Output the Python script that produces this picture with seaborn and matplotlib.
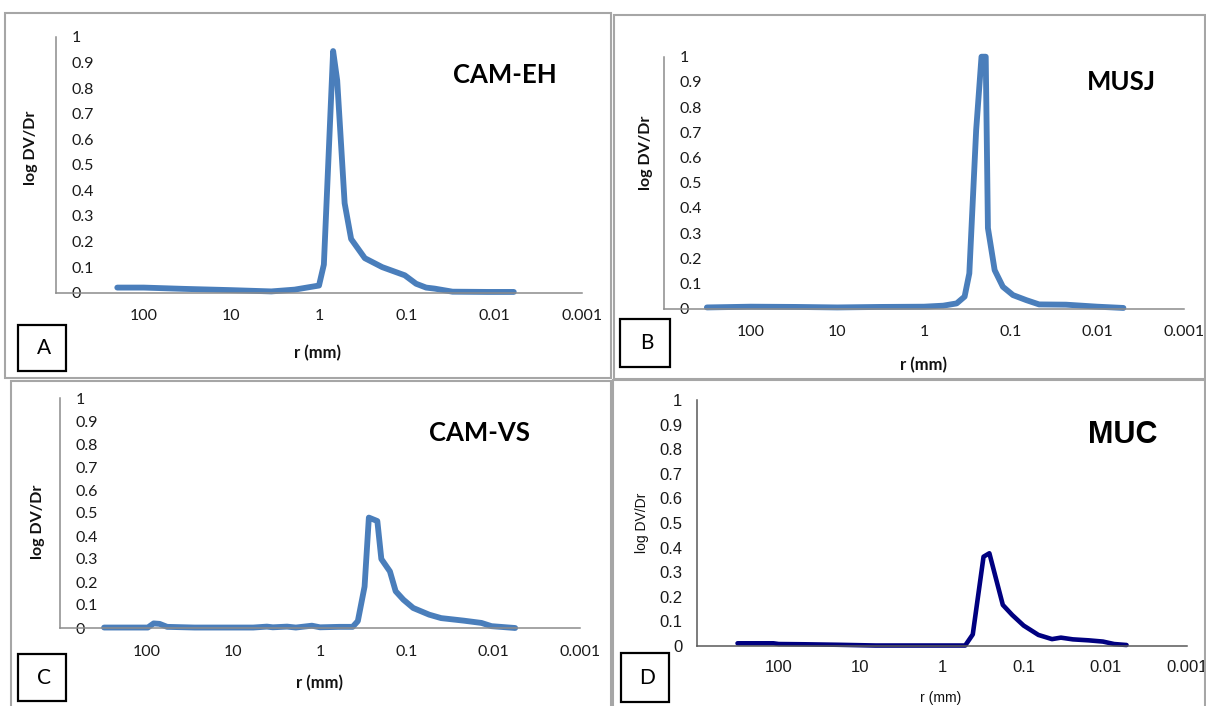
import matplotlib.pyplot as plt
import pandas as pd
import seaborn as sns
from matplotlib.patches import Rectangle
from matplotlib.ticker import NullLocator

FIG_W, FIG_H = 1206, 706

# pore radius r (mm) and log DV/Dr
CAM_EH_R = [200, 100, 35, 10, 3.5, 1.9, 1.0, 0.88, 0.69, 0.62, 0.51, 0.43, 0.30,
            0.19, 0.105, 0.078, 0.06, 0.048, 0.03, 0.012, 0.006]
CAM_EH_V = [0.02, 0.02, 0.015, 0.01, 0.005, 0.012, 0.028, 0.11, 0.945, 0.83, 0.35,
            0.21, 0.135, 0.10, 0.068, 0.035, 0.02, 0.016, 0.004, 0.003, 0.003]

MUSJ_R = [320, 100, 30, 10, 3.2, 1.0, 0.6, 0.42, 0.34, 0.30, 0.25, 0.217, 0.194,
          0.183, 0.153, 0.123, 0.094, 0.066, 0.047, 0.023, 0.01, 0.005]
MUSJ_V = [0.005, 0.008, 0.007, 0.005, 0.007, 0.008, 0.012, 0.021, 0.048, 0.14, 0.71,
          1.0, 1.0, 0.32, 0.153, 0.087, 0.054, 0.034, 0.017, 0.016, 0.008, 0.003]

CAM_VS_R = [310, 97, 83, 71, 58, 28, 5.9, 4.1, 3.5, 2.4, 1.9, 1.24, 1.0, 0.6, 0.42,
            0.366, 0.306, 0.273, 0.218, 0.196, 0.156, 0.134, 0.109, 0.084, 0.055,
            0.04, 0.022, 0.0137, 0.0105, 0.0056]
CAM_VS_V = [0.002, 0.002, 0.02, 0.018, 0.005, 0.002, 0.002, 0.006, 0.003, 0.006,
            0.002, 0.01, 0.003, 0.005, 0.005, 0.03, 0.18, 0.48, 0.465, 0.30, 0.246,
            0.16, 0.123, 0.087, 0.058, 0.043, 0.032, 0.022, 0.008, 0.0]

MUC_R = [319, 116, 100, 49, 19, 6.5, 2.0, 0.52, 0.42, 0.31, 0.263, 0.18, 0.138, 0.10,
         0.066, 0.045, 0.035, 0.025, 0.016, 0.0107, 0.0078, 0.0055]
MUC_V = [0.011, 0.011, 0.008, 0.007, 0.005, 0.002, 0.002, 0.002, 0.047, 0.363, 0.377,
         0.167, 0.126, 0.083, 0.045, 0.028, 0.034, 0.027, 0.023, 0.018, 0.008, 0.004]

X_TICKS = [100, 10, 1, 0.1, 0.01, 0.001]
X_LABELS = ["100", "10", "1", "0.1", "0.01", "0.001"]
Y_TICKS = [0, 0.1, 0.2, 0.3, 0.4, 0.5, 0.6, 0.7, 0.8, 0.9, 1]
Y_LABELS = ["0", "0.1", "0.2", "0.3", "0.4", "0.5", "0.6", "0.7", "0.8", "0.9", "1"]

EXCEL_BLUE = "#4a7ebb"
NAVY = "#000080"


def fx(x):
    return x / FIG_W


def fy(y):
    return 1 - y / FIG_H


def add_box(fig, left, top, right, bottom, color, lw):
    fig.add_artist(Rectangle((fx(left), fy(bottom)), (right - left) / FIG_W,
                             (bottom - top) / FIG_H, transform=fig.transFigure,
                             fill=False, edgecolor=color, linewidth=lw))


def draw_panel(fig, spec):
    left, top, right, bottom = spec["axes"]
    ax = fig.add_axes([fx(left), fy(bottom), (right - left) / FIG_W, (bottom - top) / FIG_H])
    ax.set_xscale("log")
    df = pd.DataFrame({"r": spec["r"], "v": spec["v"]})
    sns.lineplot(data=df, x="r", y="v", ax=ax, color=spec["color"],
                 linewidth=spec["lw"], estimator=None, sort=False)
    for line in ax.lines:
        line.set_clip_on(False)
        line.set_solid_joinstyle("round")
        line.set_solid_capstyle("round")

    ax.set_xlim(1000, 0.001)
    ax.set_ylim(0, 1)
    ax.set_facecolor("none")
    for side in ["top", "right"]:
        ax.spines[side].set_visible(False)
    for side in ["left", "bottom"]:
        ax.spines[side].set_color(spec["axis_color"])
        ax.spines[side].set_linewidth(1.1)

    ax.set_xticks(X_TICKS)
    ax.set_xticklabels(X_LABELS)
    ax.xaxis.set_minor_locator(NullLocator())
    ax.set_yticks(Y_TICKS)
    ax.set_yticklabels(Y_LABELS)

    font = spec["font"]
    ax.tick_params(axis="x", direction="out", length=3, width=1.1, color=spec["axis_color"],
                   pad=spec["xpad"], labelsize=spec["tick_size"], labelcolor="#1a1a1a")
    if spec["inner_labels"]:
        ax.tick_params(axis="y", direction="in", length=3.4, width=1.1,
                       color=spec["axis_color"], pad=-11, labelsize=spec["tick_size"],
                       labelcolor="#1a1a1a")
        for label in ax.get_yticklabels():
            label.set_horizontalalignment("left")
    else:
        ax.tick_params(axis="y", direction="out", length=3.6, width=1.1,
                       color=spec["axis_color"], pad=7, labelsize=spec["tick_size"],
                       labelcolor="#1a1a1a")
    for label in ax.get_xticklabels() + ax.get_yticklabels():
        label.set_fontfamily(font)

    ax.set_xlabel("")
    ax.set_ylabel("")

    weight = spec["label_weight"]
    fig.text(fx(spec["ylabel_xy"][0]), fy(spec["ylabel_xy"][1]), "log DV/Dr", rotation=90,
             ha="center", va="center", fontsize=spec["label_size"], fontweight=weight,
             family=font, color="#111111")
    fig.text(fx(spec["xlabel_xy"][0]), fy(spec["xlabel_xy"][1]), "r (mm)",
             ha="center", va="center", fontsize=spec["xlabel_size"], fontweight=weight,
             family=font, color="#111111")
    fig.text(fx(spec["title_xy"][0]), fy(spec["title_xy"][1]), spec["title"],
             ha="center", va="center", fontsize=spec["title_size"], fontweight="bold",
             family=font, color="black")

    add_box(fig, *spec["frame"], color="#a6a6a6", lw=1.5)
    bl, bt, br, bb = spec["letter_box"]
    add_box(fig, bl, bt, br, bb, color="black", lw=1.6)
    fig.text(fx((bl + br) / 2 + 2), fy((bt + bb) / 2), spec["letter"], ha="center",
             va="center", fontsize=15, family="Lato", color="black")
    return ax


def main():
    sns.set_style("white")
    fig = plt.figure(figsize=(FIG_W / 100, FIG_H / 100), dpi=100)
    fig.patch.set_facecolor("white")

    calibri_like = dict(color=EXCEL_BLUE, lw=4.2, axis_color="#8c8c8c", font="Lato",
                        inner_labels=True, tick_size=11.5, xpad=9, label_size=11.5,
                        xlabel_size=12, label_weight="bold", title_size=18.5)
    panels = [
        dict(calibri_like, r=CAM_EH_R, v=CAM_EH_V, title="CAM-EH", letter="A",
             axes=(56, 37, 582, 292.7), frame=(5, 13, 611, 378),
             letter_box=(17.5, 325, 66, 371), title_xy=(505, 75),
             ylabel_xy=(31, 148), xlabel_xy=(318, 353)),
        dict(calibri_like, r=MUSJ_R, v=MUSJ_V, title="MUSJ", letter="B",
             axes=(664, 56.7, 1184, 308.7), frame=(614, 15, 1205, 379),
             letter_box=(620, 319, 670, 367), title_xy=(1121, 82),
             ylabel_xy=(646, 153), xlabel_xy=(924, 365)),
        dict(calibri_like, r=CAM_VS_R, v=CAM_VS_V, title="CAM-VS", letter="C",
             axes=(60, 398, 580, 628), frame=(11, 381, 611, 710),
             letter_box=(17.5, 654, 66, 701), title_xy=(479, 433),
             ylabel_xy=(38, 522), xlabel_xy=(319, 683)),
        dict(r=MUC_R, v=MUC_V, title="MUC", letter="D", color=NAVY, lw=3.3,
             axis_color="#595959", font="Liberation Sans", inner_labels=False,
             tick_size=12, xpad=7, label_size=10, xlabel_size=10, label_weight="normal",
             title_size=22,
             axes=(697, 400, 1187, 646), frame=(613, 380, 1205, 710),
             letter_box=(621, 653, 669, 702), title_xy=(1123, 435),
             ylabel_xy=(642, 523), xlabel_xy=(941, 698)),
    ]
    for spec in panels:
        draw_panel(fig, spec)

    fig.savefig("out.png", dpi=100)
    plt.close(fig)


if __name__ == "__main__":
    main()
